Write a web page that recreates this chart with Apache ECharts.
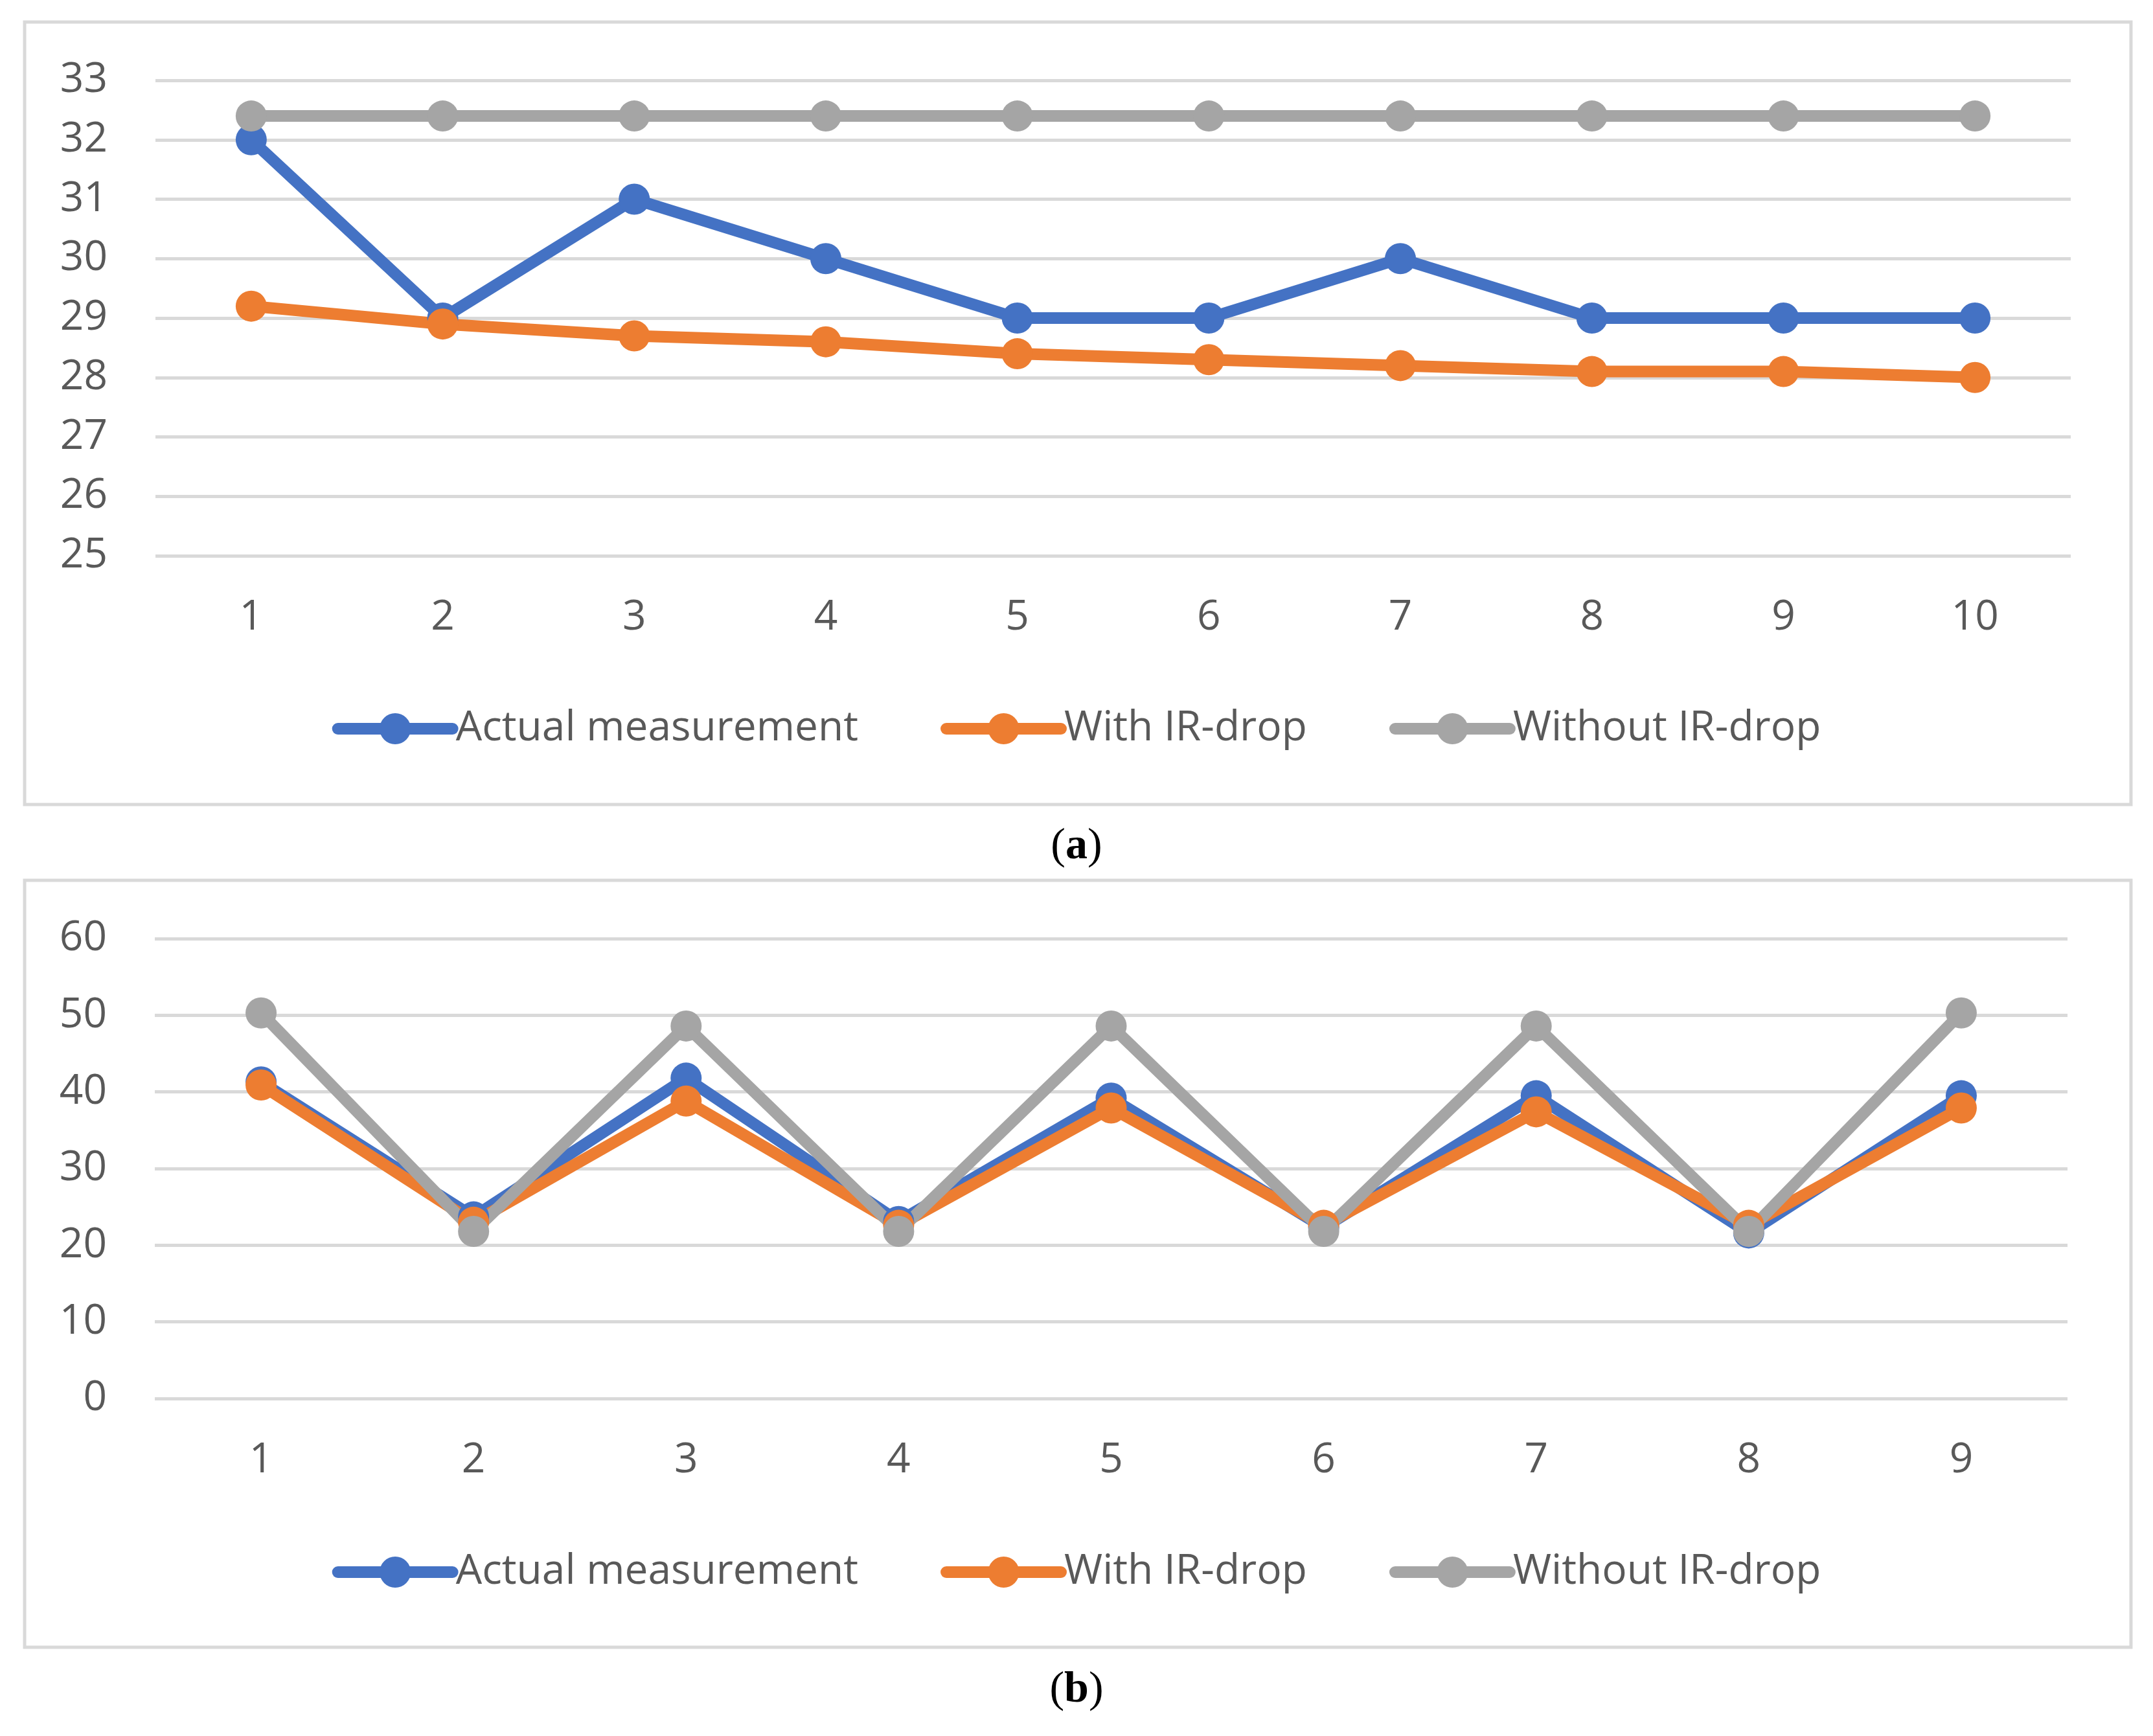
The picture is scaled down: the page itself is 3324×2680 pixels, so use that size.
<!DOCTYPE html>
<html>
<head>
<meta charset="utf-8">
<title>IR-drop</title>
<script src="https://cdn.jsdelivr.net/npm/echarts@6/dist/echarts.min.js"></script>
<style>
    html, body {margin: 0; padding: 0; background: #fff;}
    #chart {width: 3324px; height: 2680px;}
</style>
</head>
<body>
<div id="chart"></div>
<script>
// panel (a)
let catsA = ['1', '2', '3', '4', '5', '6', '7', '8', '9', '10']
let actualA = [32, 29, 31, 30, 29, 29, 30, 29, 29, 29]
let withA = [29.2, 28.9, 28.7, 28.6, 28.4, 28.3, 28.2, 28.1, 28.1, 28.0]
let withoutA = [32.4, 32.4, 32.4, 32.4, 32.4, 32.4, 32.4, 32.4, 32.4, 32.4]

// panel (b)
let catsB = ['1', '2', '3', '4', '5', '6', '7', '8', '9']
let actualB = [41.3, 23.7, 41.8, 23.1, 39.2, 22.3, 39.5, 21.6, 39.5]
let withB = [40.9, 23.0, 38.8, 22.6, 37.9, 22.6, 37.4, 22.6, 37.9]
let withoutB = [50.3, 21.8, 48.6, 21.8, 48.6, 21.8, 48.6, 21.8, 50.3]

let names = ['Actual measurement', 'With IR-drop', 'Without IR-drop']
let colors = ['#4472C4', '#ED7D31', '#A5A5A5']

let font = '"Open Sans", "Noto Sans", sans-serif'
let textColor = '#595959'
let gridColor = '#D9D9D9'

let chart = echarts.init(document.getElementById('chart'))

let xAxisOf = function (gridIndex, cats) {
    return {
        type: 'category',
        gridIndex,
        data: cats,
        axisLine: {show: false},
        axisTick: {show: false},
        axisLabel: {color: textColor, fontFamily: font, fontSize: 64, margin: 64}
    }
}

let yAxisOf = function (gridIndex, min, max, interval) {
    return {
        type: 'value',
        gridIndex,
        min,
        max,
        interval,
        axisLine: {show: false},
        axisTick: {show: false},
        axisLabel: {color: textColor, fontFamily: font, fontSize: 64, margin: 74},
        splitLine: {lineStyle: {color: gridColor, width: 5}}
    }
}

let lineOf = function (i, axisIndex, values) {
    return {
        name: names[i],
        type: 'line',
        xAxisIndex: axisIndex,
        yAxisIndex: axisIndex,
        data: values,
        symbol: 'circle',
        symbolSize: 48,
        showAllSymbol: true,
        lineStyle: {color: colors[i], width: 18},
        itemStyle: {color: colors[i]},
        emphasis: {disabled: true}
    }
}

let legendOf = function (top) {
    return {
        data: names,
        left: 'center',
        top,
        itemWidth: 177,
        itemHeight: 60,
        itemGap: 127,
        selectedMode: false,
        lineStyle: {width: 18, cap: 'round'},
        textStyle: {color: textColor, fontFamily: font, fontSize: 64}
    }
}

let captionOf = function (letter, top) {
    return {
        text: '{p|(}{b|' + letter + '}{p|)}',
        left: 'center',
        top,
        textStyle: {
            rich: {
                p: {fontFamily: '"Liberation Serif", serif', fontSize: 68, fontWeight: 'normal', color: '#000'},
                b: {fontFamily: '"Liberation Serif", serif', fontSize: 68, fontWeight: 'bold', color: '#000'}
            }
        }
    }
}

let option = {
    animation: false,
    backgroundColor: '#fff',
    title: [captionOf('a', 1268), captionOf('b', 2570)],
    legend: [legendOf(1088), legendOf(2390)],
    grid: [
        {left: 240, top: 124, width: 2957, height: 734},
        {left: 239, top: 1449, width: 2953, height: 710}
    ],
    xAxis: [xAxisOf(0, catsA), xAxisOf(1, catsB)],
    yAxis: [yAxisOf(0, 25, 33, 1), yAxisOf(1, 0, 60, 10)],
    graphic: [
        {
            type: 'rect',
            shape: {x: 38, y: 34, width: 3252, height: 1208},
            style: {fill: 'none', stroke: gridColor, lineWidth: 5},
            silent: true
        },
        {
            type: 'rect',
            shape: {x: 38, y: 1359, width: 3252, height: 1184},
            style: {fill: 'none', stroke: gridColor, lineWidth: 5},
            silent: true
        }
    ],
    series: [
        lineOf(0, 0, actualA),
        lineOf(1, 0, withA),
        lineOf(2, 0, withoutA),
        lineOf(0, 1, actualB),
        lineOf(1, 1, withB),
        lineOf(2, 1, withoutB)
    ]
}

chart.setOption(option)
</script>
</body>
</html>
